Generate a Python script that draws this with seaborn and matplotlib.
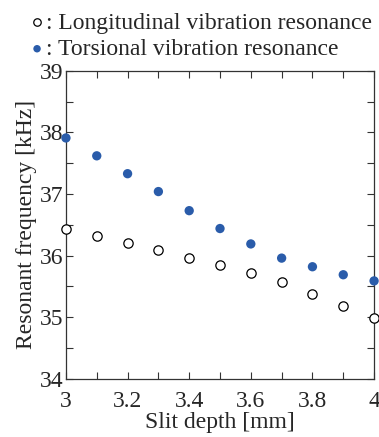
import numpy as np
import pandas as pd
import matplotlib
matplotlib.use("Agg")
import matplotlib.pyplot as plt
import seaborn as sns
from matplotlib.ticker import MultipleLocator

slit_depth = [3.0, 3.1, 3.2, 3.3, 3.4, 3.5, 3.6, 3.7, 3.8, 3.9, 4.0]
longitudinal = [36.44, 36.32, 36.21, 36.09, 35.96, 35.85, 35.72, 35.57, 35.38, 35.19, 34.99]
torsional = [37.91, 37.62, 37.33, 37.04, 36.73, 36.44, 36.19, 35.96, 35.82, 35.69, 35.59]
labels = [": Longitudinal vibration resonance", ": Torsional vibration resonance"]

df = pd.DataFrame({
    "depth": slit_depth * 2,
    "freq": longitudinal + torsional,
    "mode": [labels[0]] * len(slit_depth) + [labels[1]] * len(slit_depth),
})

sns.set_style("ticks")
plt.rcParams["font.family"] = ["Liberation Serif", "DejaVu Serif"]

fig = plt.figure(figsize=(3.79, 4.37), dpi=100)
ax = fig.add_axes([0.174, 0.133, 0.813, 0.705])

sns.scatterplot(data=df[df["mode"] == labels[0]], x="depth", y="freq", ax=ax,
                s=45, facecolor="white", edgecolor="black", linewidth=0.9,
                label=labels[0], clip_on=False, zorder=3)
sns.scatterplot(data=df[df["mode"] == labels[1]], x="depth", y="freq", ax=ax,
                s=45, color="#2a5caa", edgecolor="none",
                label=labels[1], clip_on=False, zorder=3)

ax.set_xlim(3, 4)
ax.set_ylim(34, 39)
ax.xaxis.set_minor_locator(MultipleLocator(0.1))
ax.yaxis.set_major_locator(MultipleLocator(1))
ax.yaxis.set_minor_locator(MultipleLocator(0.5))
ax.set_xticks([3, 3.2, 3.4, 3.6, 3.8, 4])
ax.set_xticklabels(["3", "3.2", "3.4", "3.6", "3.8", "4"])
ax.tick_params(which="both", direction="in", top=True, right=True, labelsize=17,
               width=0.8, color="#333333", length=5)
ax.tick_params(axis="x", pad=9)
ax.tick_params(axis="y", pad=2)
for sp in ax.spines.values():
    sp.set_linewidth(0.9)
    sp.set_color("#333333")

ax.set_xlabel("Slit depth [mm]", fontsize=17, labelpad=0)
ax.set_ylabel("Resonant frequency [kHz]", fontsize=17, labelpad=2)

handles, labs = ax.get_legend_handles_labels()
ax.get_legend().remove()
fig.legend(handles, labs, loc="upper left", bbox_to_anchor=(0.023, 1.01),
           frameon=False, fontsize=17, handletextpad=-0.1, labelspacing=0.2,
           handlelength=1.0, borderpad=0.2, markerscale=0.8)

fig.savefig("out.png", dpi=100)
